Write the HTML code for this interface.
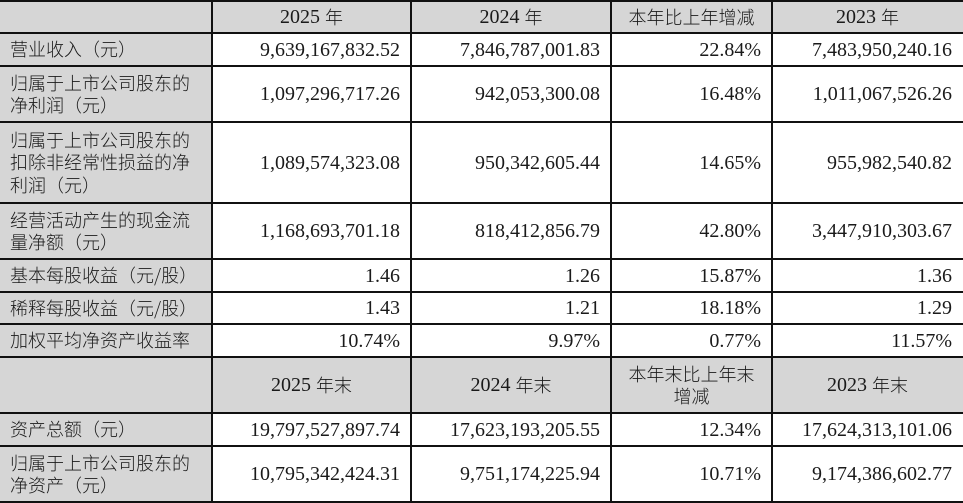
<!DOCTYPE html>
<html><head><meta charset="utf-8"><style>
*{margin:0;padding:0;box-sizing:border-box}
html,body{width:963px;height:503px;background:#fff;overflow:hidden}
body{position:relative;font-family:"Liberation Serif","Noto Sans CJK SC",serif;color:#1a1a1a}
.bg{position:absolute;background:#d6d6d6}
.h{position:absolute;left:0;width:963px;height:2px;background:#111}
.v{position:absolute;top:0;width:2px;height:503px;background:#111}
.c{position:absolute;display:flex;align-items:center;font-size:20px;line-height:22px}
.r{justify-content:flex-end;padding-right:11px;text-align:right}
.m{justify-content:center;text-align:center}
.l{justify-content:flex-start;padding-left:10px;font-size:18px;line-height:22.5px;font-family:"Noto Sans CJK SC",sans-serif;font-weight:300;letter-spacing:0px}
.cj{font-family:"Noto Sans CJK SC",sans-serif;font-size:18px;font-weight:300}
</style></head><body>
<div class="bg" style="left:0;top:0;width:212px;height:503px"></div>
<div class="bg" style="left:0;top:0;width:963px;height:33px"></div>
<div class="bg" style="left:0;top:357px;width:963px;height:56px"></div>

<!-- header 1 -->
<div class="c m" style="left:212px;top:1px;width:199px;height:32px">2025&nbsp;<span class="cj">年</span></div>
<div class="c m" style="left:411px;top:1px;width:200px;height:32px">2024&nbsp;<span class="cj">年</span></div>
<div class="c m cj" style="left:611px;top:1px;width:161px;height:32px">本年比上年增减</div>
<div class="c m" style="left:772px;top:1px;width:191px;height:32px">2023&nbsp;<span class="cj">年</span></div>

<!-- row 1 -->
<div class="c l" style="left:0;top:33px;width:212px;height:33px">营业收入（元）</div>
<div class="c r" style="left:212px;top:33px;width:199px;height:33px">9,639,167,832.52</div>
<div class="c r" style="left:411px;top:33px;width:200px;height:33px">7,846,787,001.83</div>
<div class="c r" style="left:611px;top:33px;width:161px;height:33px">22.84%</div>
<div class="c r" style="left:772px;top:33px;width:191px;height:33px">7,483,950,240.16</div>

<!-- row 2 -->
<div class="c l" style="left:0;top:66px;width:212px;height:56px">归属于上市公司股东的<br>净利润（元）</div>
<div class="c r" style="left:212px;top:66px;width:199px;height:56px">1,097,296,717.26</div>
<div class="c r" style="left:411px;top:66px;width:200px;height:56px">942,053,300.08</div>
<div class="c r" style="left:611px;top:66px;width:161px;height:56px">16.48%</div>
<div class="c r" style="left:772px;top:66px;width:191px;height:56px">1,011,067,526.26</div>

<!-- row 3 -->
<div class="c l" style="left:0;top:122px;width:212px;height:81px">归属于上市公司股东的<br>扣除非经常性损益的净<br>利润（元）</div>
<div class="c r" style="left:212px;top:122px;width:199px;height:81px">1,089,574,323.08</div>
<div class="c r" style="left:411px;top:122px;width:200px;height:81px">950,342,605.44</div>
<div class="c r" style="left:611px;top:122px;width:161px;height:81px">14.65%</div>
<div class="c r" style="left:772px;top:122px;width:191px;height:81px">955,982,540.82</div>

<!-- row 4 -->
<div class="c l" style="left:0;top:203px;width:212px;height:56px">经营活动产生的现金流<br>量净额（元）</div>
<div class="c r" style="left:212px;top:203px;width:199px;height:56px">1,168,693,701.18</div>
<div class="c r" style="left:411px;top:203px;width:200px;height:56px">818,412,856.79</div>
<div class="c r" style="left:611px;top:203px;width:161px;height:56px">42.80%</div>
<div class="c r" style="left:772px;top:203px;width:191px;height:56px">3,447,910,303.67</div>

<!-- row 5 -->
<div class="c l" style="left:0;top:259px;width:212px;height:33px">基本每股收益（元/股）</div>
<div class="c r" style="left:212px;top:259px;width:199px;height:33px">1.46</div>
<div class="c r" style="left:411px;top:259px;width:200px;height:33px">1.26</div>
<div class="c r" style="left:611px;top:259px;width:161px;height:33px">15.87%</div>
<div class="c r" style="left:772px;top:259px;width:191px;height:33px">1.36</div>

<!-- row 6 -->
<div class="c l" style="left:0;top:292px;width:212px;height:32px">稀释每股收益（元/股）</div>
<div class="c r" style="left:212px;top:292px;width:199px;height:32px">1.43</div>
<div class="c r" style="left:411px;top:292px;width:200px;height:32px">1.21</div>
<div class="c r" style="left:611px;top:292px;width:161px;height:32px">18.18%</div>
<div class="c r" style="left:772px;top:292px;width:191px;height:32px">1.29</div>

<!-- row 7 -->
<div class="c l" style="left:0;top:324px;width:212px;height:33px">加权平均净资产收益率</div>
<div class="c r" style="left:212px;top:324px;width:199px;height:33px">10.74%</div>
<div class="c r" style="left:411px;top:324px;width:200px;height:33px">9.97%</div>
<div class="c r" style="left:611px;top:324px;width:161px;height:33px">0.77%</div>
<div class="c r" style="left:772px;top:324px;width:191px;height:33px">11.57%</div>

<!-- header 2 -->
<div class="c m" style="left:212px;top:357px;width:199px;height:56px">2025&nbsp;<span class="cj">年末</span></div>
<div class="c m" style="left:411px;top:357px;width:200px;height:56px">2024&nbsp;<span class="cj">年末</span></div>
<div class="c m cj" style="left:611px;top:357px;width:161px;height:56px">本年末比上年末<br>增减</div>
<div class="c m" style="left:772px;top:357px;width:191px;height:56px">2023&nbsp;<span class="cj">年末</span></div>

<!-- row 8 -->
<div class="c l" style="left:0;top:413px;width:212px;height:33px">资产总额（元）</div>
<div class="c r" style="left:212px;top:413px;width:199px;height:33px">19,797,527,897.74</div>
<div class="c r" style="left:411px;top:413px;width:200px;height:33px">17,623,193,205.55</div>
<div class="c r" style="left:611px;top:413px;width:161px;height:33px">12.34%</div>
<div class="c r" style="left:772px;top:413px;width:191px;height:33px">17,624,313,101.06</div>

<!-- row 9 -->
<div class="c l" style="left:0;top:446px;width:212px;height:56px">归属于上市公司股东的<br>净资产（元）</div>
<div class="c r" style="left:212px;top:446px;width:199px;height:56px">10,795,342,424.31</div>
<div class="c r" style="left:411px;top:446px;width:200px;height:56px">9,751,174,225.94</div>
<div class="c r" style="left:611px;top:446px;width:161px;height:56px">10.71%</div>
<div class="c r" style="left:772px;top:446px;width:191px;height:56px">9,174,386,602.77</div>

<!-- lines -->
<div class="h" style="top:0"></div>
<div class="h" style="top:32px"></div>
<div class="h" style="top:65px"></div>
<div class="h" style="top:121px"></div>
<div class="h" style="top:202px"></div>
<div class="h" style="top:258px"></div>
<div class="h" style="top:291px"></div>
<div class="h" style="top:323px"></div>
<div class="h" style="top:356px"></div>
<div class="h" style="top:412px"></div>
<div class="h" style="top:445px"></div>
<div class="h" style="top:501px"></div>
<div class="v" style="left:211px"></div>
<div class="v" style="left:410px"></div>
<div class="v" style="left:610px"></div>
<div class="v" style="left:771px"></div>
</body></html>
